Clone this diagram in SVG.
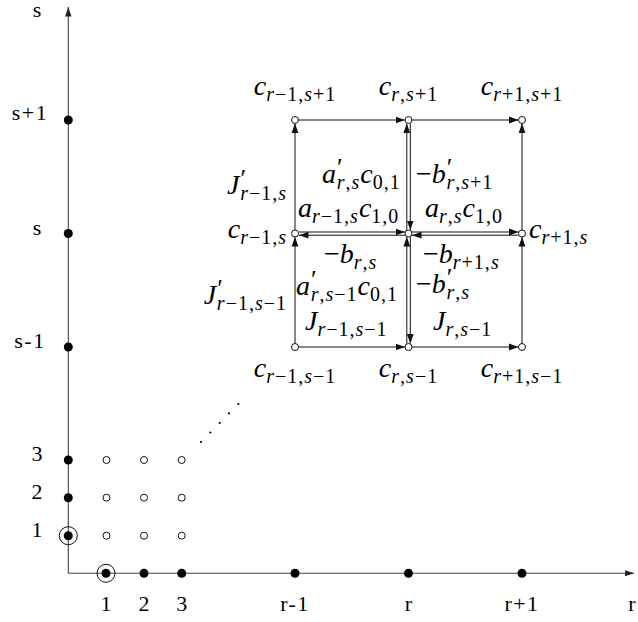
<svg xmlns="http://www.w3.org/2000/svg" width="638" height="622" viewBox="0 0 638 622" font-family="'Liberation Serif', 'Times New Roman', 'DejaVu Serif', serif">
<style>
.m{font-family:'Liberation Serif','Times New Roman','DejaVu Serif',serif;font-style:italic;font-size:28px;fill:#000}
.s{font-size:20px;letter-spacing:1px}
.u{font-style:normal}
.p{font-style:normal;font-size:26px}
.ax{font-family:'Liberation Serif','Times New Roman','DejaVu Serif',serif;font-size:22px;fill:#000;text-anchor:middle}
.e{stroke:#111;stroke-width:1;fill:none;marker-end:url(#ah)}
.axis{stroke:#444;stroke-width:1.1;fill:none;marker-end:url(#aa)}
.n{fill:#fff;stroke:#111;stroke-width:1}
.d{fill:#000}
.ring{fill:none;stroke:#111;stroke-width:1}
</style>
<defs>
<marker id="ah" markerUnits="userSpaceOnUse" markerWidth="10" markerHeight="8" refX="9.5" refY="4" orient="auto"><path d="M0,0.6 L9.5,4 L0,7.4 z" fill="#111"/></marker>
<marker id="aa" markerUnits="userSpaceOnUse" markerWidth="10" markerHeight="8" refX="9.5" refY="4" orient="auto"><path d="M0,0.8 L9.5,4 L0,7.2 z" fill="#222"/></marker>
</defs>
<rect width="638" height="622" fill="#fff"/>

<g id="axes">
<line class="axis" x1="68.3" y1="573.3" x2="68.3" y2="7"/>
<line class="axis" x1="68.3" y1="573.3" x2="634" y2="573.3"/>
<text class="ax" x="37" y="17">s</text>
<text class="ax" x="632" y="611">r</text>
</g>

<g id="connectors">
<path class="e" d="M298.5,120 H405"/>
<path class="e" d="M412,120 H518.5"/>
<path class="e" d="M298.5,347 H405"/>
<path class="e" d="M412,347 H518.5"/>
<path class="e" d="M295,343.5 V237"/>
<path class="e" d="M295,230 V123.5"/>
<path class="e" d="M522,343.5 V237"/>
<path class="e" d="M522,230 V123.5"/>
<path class="e" d="M299,232 H405"/>
<path class="e" d="M405,235.2 H299"/>
<path class="e" d="M412,232 H518.5"/>
<path class="e" d="M518.5,235.2 H412"/>
<path class="e" d="M406.8,230 V123.5"/>
<path class="e" d="M410.3,123.5 V230"/>
<path class="e" d="M406.8,343.5 V237"/>
<path class="e" d="M410.3,237 V343.5"/>
</g>

<g id="edge-labels">
<text class="m" x="287" y="194" text-anchor="end">J<tspan class="p" dx="1" dy="-7">′</tspan><tspan class="s" dx="-6" dy="13">r<tspan class="u">−1,</tspan>s</tspan></text>
<text class="m" x="322" y="183">a<tspan class="p" dx="1" dy="-7">′</tspan><tspan class="s" dx="-6" dy="13">r<tspan class="u">,</tspan>s</tspan><tspan dy="-6" dx="0">c</tspan><tspan class="s u" dy="6">0,1</tspan></text>
<text class="m" x="416" y="183"><tspan class="u">−</tspan>b<tspan class="p" dx="1" dy="-7">′</tspan><tspan class="s" dx="-6" dy="13">r<tspan class="u">,</tspan>s<tspan class="u">+1</tspan></tspan></text>
<text class="m" x="298" y="217">a<tspan class="s" dy="6">r<tspan class="u">−1,</tspan>s</tspan><tspan dy="-6" dx="0">c</tspan><tspan class="s u" dy="6">1,0</tspan></text>
<text class="m" x="425" y="217">a<tspan class="s" dy="6">r<tspan class="u">,</tspan>s</tspan><tspan dy="-6" dx="0">c</tspan><tspan class="s u" dy="6">1,0</tspan></text>
<text class="m" x="324" y="263"><tspan class="u">−</tspan>b<tspan class="s" dy="6">r<tspan class="u">,</tspan>s</tspan></text>
<text class="m" x="423" y="263"><tspan class="u">−</tspan>b<tspan class="s" dy="6">r<tspan class="u">+1,</tspan>s</tspan></text>
<text class="m" x="287" y="304" text-anchor="end">J<tspan class="p" dx="1" dy="-7">′</tspan><tspan class="s" dx="-6" dy="13">r<tspan class="u">−1,</tspan>s<tspan class="u">−1</tspan></tspan></text>
<text class="m" x="296" y="295">a<tspan class="p" dx="1" dy="-7">′</tspan><tspan class="s" dx="-6" dy="13">r<tspan class="u">,</tspan>s<tspan class="u">−1</tspan></tspan><tspan dy="-6" dx="0">c</tspan><tspan class="s u" dy="6">0,1</tspan></text>
<text class="m" x="416" y="293"><tspan class="u">−</tspan>b<tspan class="p" dx="1" dy="-7">′</tspan><tspan class="s" dx="-6" dy="13">r<tspan class="u">,</tspan>s</tspan></text>
<text class="m" x="305" y="330">J<tspan class="s" dy="6">r<tspan class="u">−1,</tspan>s<tspan class="u">−1</tspan></tspan></text>
<text class="m" x="433" y="330">J<tspan class="s" dy="6">r<tspan class="u">,</tspan>s<tspan class="u">−1</tspan></tspan></text>
</g>

<g id="node-r-1-s+1"><circle class="n" cx="295" cy="120" r="3.5"/><text class="m" x="295" y="95" text-anchor="middle">c<tspan class="s" dy="6">r<tspan class="u">−1,</tspan>s<tspan class="u">+1</tspan></tspan></text></g>
<g id="node-r-s+1"><circle class="n" cx="408.5" cy="120" r="3.5"/><text class="m" x="408.5" y="95" text-anchor="middle">c<tspan class="s" dy="6">r<tspan class="u">,</tspan>s<tspan class="u">+1</tspan></tspan></text></g>
<g id="node-r+1-s+1"><circle class="n" cx="522" cy="120" r="3.5"/><text class="m" x="522" y="95" text-anchor="middle">c<tspan class="s" dy="6">r<tspan class="u">+1,</tspan>s<tspan class="u">+1</tspan></tspan></text></g>
<g id="node-r-1-s"><circle class="n" cx="295" cy="233.5" r="3.5"/><text class="m" x="287" y="238" text-anchor="end">c<tspan class="s" dy="6">r<tspan class="u">−1,</tspan>s</tspan></text></g>
<g id="node-r-s"><circle class="n" cx="408.5" cy="233.5" r="3.5"/></g>
<g id="node-r+1-s"><circle class="n" cx="522" cy="233.5" r="3.5"/><text class="m" x="529" y="238">c<tspan class="s" dy="6">r<tspan class="u">+1,</tspan>s</tspan></text></g>
<g id="node-r-1-s-1"><circle class="n" cx="295" cy="347" r="3.5"/><text class="m" x="295" y="377" text-anchor="middle">c<tspan class="s" dy="6">r<tspan class="u">−1,</tspan>s<tspan class="u">−1</tspan></tspan></text></g>
<g id="node-r-s-1"><circle class="n" cx="408.5" cy="347" r="3.5"/><text class="m" x="408.5" y="377" text-anchor="middle">c<tspan class="s" dy="6">r<tspan class="u">,</tspan>s<tspan class="u">−1</tspan></tspan></text></g>
<g id="node-r+1-s-1"><circle class="n" cx="522" cy="347" r="3.5"/><text class="m" x="522" y="377" text-anchor="middle">c<tspan class="s" dy="6">r<tspan class="u">+1,</tspan>s<tspan class="u">−1</tspan></tspan></text></g>

<g id="s-axis-s+1"><circle class="d" cx="68.3" cy="120" r="4.5"/><text class="ax" x="30" y="120" letter-spacing="1.5">s+1</text></g>
<g id="s-axis-s"><circle class="d" cx="68.3" cy="233.5" r="4.5"/><text class="ax" x="37" y="235">s</text></g>
<g id="s-axis-s-1"><circle class="d" cx="68.3" cy="347" r="4.5"/><text class="ax" x="30" y="348" letter-spacing="1.5">s-1</text></g>
<g id="s-axis-3"><circle class="d" cx="68.3" cy="460" r="4.5"/><text class="ax" x="37" y="461">3</text></g>
<g id="s-axis-2"><circle class="d" cx="68.3" cy="497.7" r="4.5"/><text class="ax" x="37" y="499">2</text></g>
<g id="s-axis-1"><circle class="d" cx="68.3" cy="535.7" r="4.5"/><circle class="ring" cx="68.3" cy="535.7" r="9"/><text class="ax" x="37" y="537">1</text></g>

<g id="r-axis-1"><circle class="d" cx="106" cy="573.3" r="4.5"/><circle class="ring" cx="106" cy="573.3" r="9"/><text class="ax" x="106" y="611">1</text></g>
<g id="r-axis-2"><circle class="d" cx="144" cy="573.3" r="4.5"/><text class="ax" x="144" y="611">2</text></g>
<g id="r-axis-3"><circle class="d" cx="181.7" cy="573.3" r="4.5"/><text class="ax" x="181.7" y="611">3</text></g>
<g id="r-axis-r-1"><circle class="d" cx="295" cy="573.3" r="4.5"/><text class="ax" x="295" y="611" letter-spacing="1.5">r-1</text></g>
<g id="r-axis-r"><circle class="d" cx="408.5" cy="573.3" r="4.5"/><text class="ax" x="408.5" y="611">r</text></g>
<g id="r-axis-r+1"><circle class="d" cx="522" cy="573.3" r="4.5"/><text class="ax" x="522" y="611" letter-spacing="1.5">r+1</text></g>

<g id="small-grid">
<circle class="n" cx="106.5" cy="460" r="3.5"/><circle class="n" cx="144" cy="460" r="3.5"/><circle class="n" cx="181.7" cy="460" r="3.5"/>
<circle class="n" cx="106.5" cy="497.7" r="3.5"/><circle class="n" cx="144" cy="497.7" r="3.5"/><circle class="n" cx="181.7" cy="497.7" r="3.5"/>
<circle class="n" cx="106.5" cy="535.7" r="3.5"/><circle class="n" cx="144" cy="535.7" r="3.5"/><circle class="n" cx="181.7" cy="535.7" r="3.5"/>
</g>
<g id="dots">
<circle class="d" cx="201" cy="442" r="1.1"/><circle class="d" cx="210.3" cy="432.5" r="1.1"/><circle class="d" cx="219.7" cy="423" r="1.1"/><circle class="d" cx="229" cy="413.3" r="1.1"/><circle class="d" cx="238.3" cy="404" r="1.1"/>
</g>
</svg>
